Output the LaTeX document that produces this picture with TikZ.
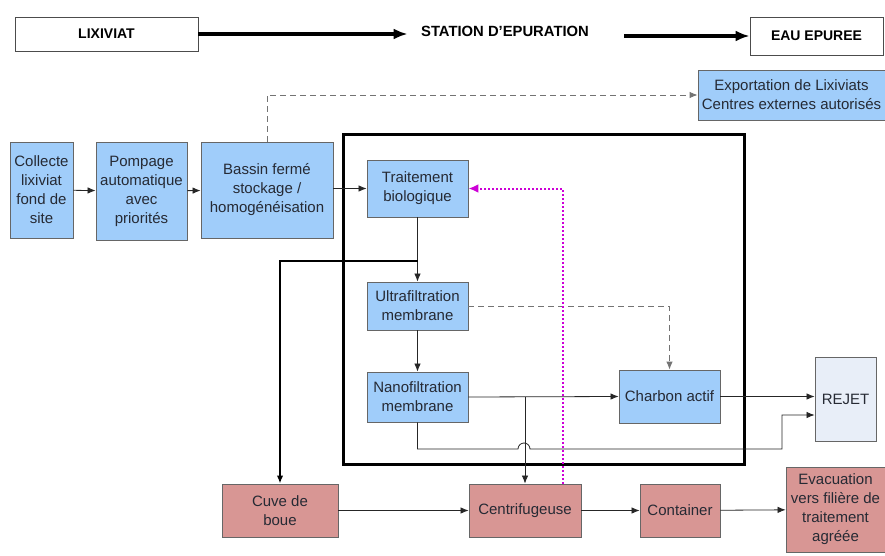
\documentclass[tikz,border=0pt]{standalone}
\usepackage{fontspec}
\setsansfont{Liberation Sans}
\usetikzlibrary{arrows.meta}
\definecolor{boxblue}{RGB}{160,205,250}
\definecolor{boxrose}{RGB}{216,150,148}
\definecolor{boxpale}{RGB}{232,238,248}
\definecolor{txtdark}{RGB}{38,42,52}
\definecolor{recycle}{RGB}{205,0,215}
\def\ux{1pt}
\def\uy{1pt}

\begin{document}
\begin{tikzpicture}[x=\ux,y=-\uy, font=\sffamily\fontsize{15}{19}\selectfont,
    >={Latex[length=8pt,width=6.5pt]}]
		\tikzset{
			box/.style={draw=black!60, line width=0.9pt, rectangle, align=center,
			  text=txtdark, inner sep=1pt, minimum width=#1},
			bluebox/.style={box=#1, fill=boxblue},
			rosebox/.style={box=#1, fill=boxrose},
			palebox/.style={box=#1, fill=boxpale},
			titlebox/.style={draw=black!70, line width=0.9pt, fill=white,
			  font=\sffamily\bfseries\fontsize{14}{17}\selectfont, minimum width=#1},
			flow/.style={->, line width=0.8pt, black!85},
			bigflow/.style={-{Latex[length=14pt,width=11pt]}, line width=3.2pt},
		}
		\useasboundingbox[fill=white] (0,0) rectangle (885,556);

		% title line
		\node[titlebox=183pt, minimum height=34pt] (lix) at (106.5,34) {LIXIVIAT};
		\node[font=\sffamily\bfseries\fontsize{14.8}{17}\selectfont] (station) at (505,31) {STATION D'EPURATION};
		\node[titlebox=133pt, minimum height=38pt] (eau) at (816.5,36) {EAU EPUREE};
		\draw[bigflow] (lix.east) -- ([xshift=-10pt]station.west |- lix.east);
		\draw[bigflow] ([xshift=32pt]station.east |- eau.west) -- (eau.west);

		% first row
		\node[bluebox=187pt, minimum height=50pt] (export) at (791.5,95) {Exportation de Lixiviats\\Centres externes autorisés};
		\node[bluebox=63pt, minimum height=96pt] (collecte) at (41.5,190) {Collecte\\lixiviat\\fond de\\site};
		\node[bluebox=91pt, minimum height=98pt] (pompage) at (141.5,191) {Pompage\\automatique\\avec\\priorités};
		\node[bluebox=132pt, minimum height=96pt] (bassin) at (267,190) {Bassin fermé\\stockage /\\homogénéisation};

		% station
		\draw[line width=3pt] (343,135) rectangle (744,464);
		\node[bluebox=101pt, minimum height=57pt] (trait) at (417.5,188.5) {Traitement\\biologique};
		\node[bluebox=101pt, minimum height=48pt] (ultra) at (417.5,306) {Ultrafiltration\\membrane};
		\node[bluebox=101pt, minimum height=50pt] (nano) at (417.5,397) {Nanofiltration\\membrane};
		\node[bluebox=101pt, minimum height=53pt] (charbon) at (669.5,396.5) {Charbon actif};
		\node[palebox=61pt, minimum height=84pt] (rejet) at (845.5,399) {REJET};

		% boues
		\node[rosebox=116pt, minimum height=53pt] (cuve) at (280,510.5) {Cuve de\\boue};
		\node[rosebox=112pt, minimum height=53pt] (centri) at (525,510.5) {Centrifugeuse};
		\node[rosebox=80pt, minimum height=53pt] (container) at (680,510.5) {Container};
		\node[rosebox=99pt, minimum height=85pt] (evac) at (835.5,509.5) {Evacuation\\vers filière de\\traitement\\agréée};

		\draw[flow] (collecte) -- (pompage);
		\draw[flow] (pompage) -- (bassin);
		\draw[flow] (bassin.east |- trait.west) -- (trait.west);
		\draw[->, black!55, line width=0.9pt, dash pattern=on 6pt off 4pt] (bassin.north) |- (export.west);

		\draw[flow] (trait) -- (ultra);
		\coordinate (split) at (417.5,261);
		\draw[->, line width=1.6pt] (split) -| (cuve.north);
		\draw[flow] (ultra) -- (nano);
		\draw[->, black!55, line width=0.9pt, dash pattern=on 6pt off 4pt] (ultra.east) -| (charbon.north);
		\draw[flow] (nano.east) -- (charbon.west);
		\draw[flow] (nano.east -| centri.north) -- (centri.north);
		\draw[flow] (charbon.east) -- (charbon.east -| rejet.west);
		\draw[flow] (nano.south) |- (518,449) arc (180:360:6) -- (782,449)
		  |- ([yshift=-16pt]rejet.west);
		\draw[-{Latex[length=10pt,width=9pt]}, recycle, line width=2pt, dash pattern=on 2pt off 2pt] ([xshift=38pt]centri.north) |- (trait.east);

		\draw[flow] (cuve) -- (centri);
		\draw[flow] (centri) -- (container);
		\draw[flow] (container) -- (evac);

		\end{tikzpicture}
\end{document}
